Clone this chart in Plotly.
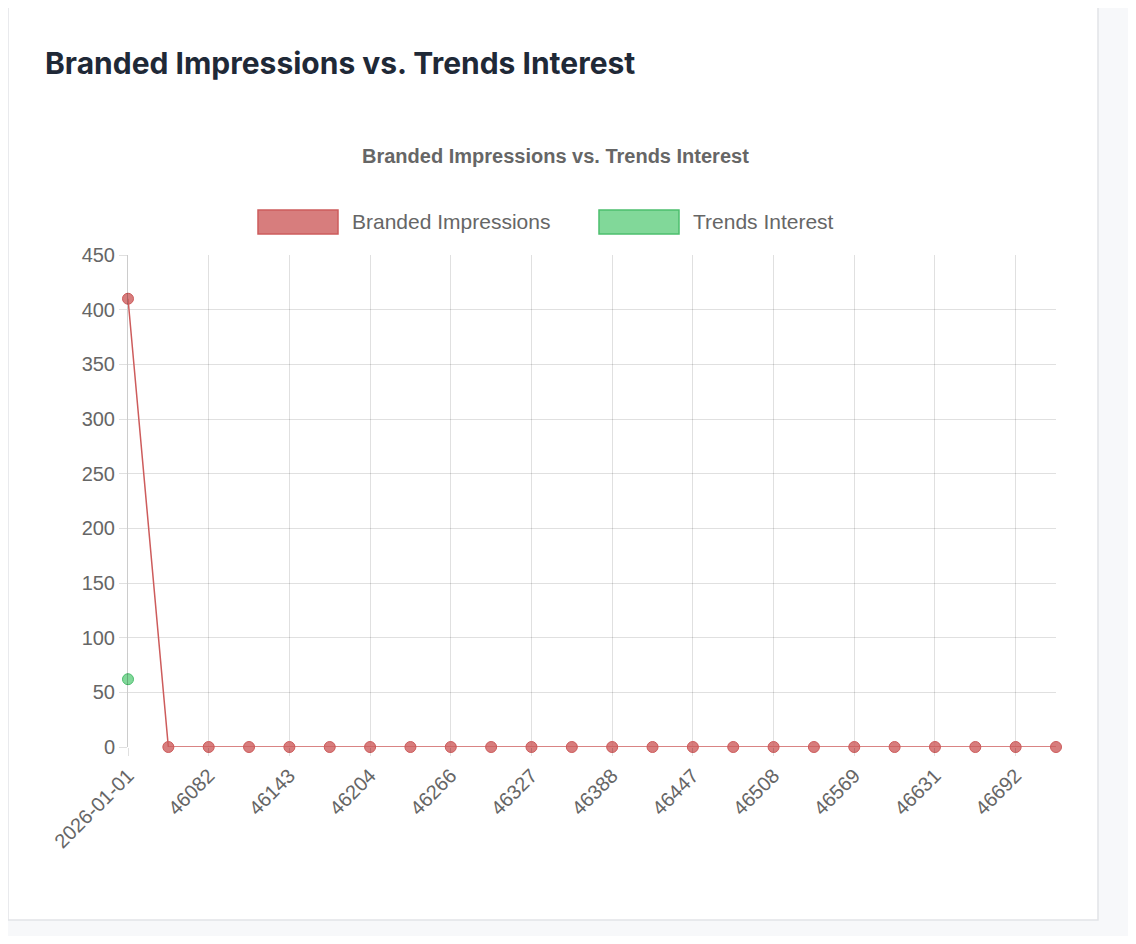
import plotly.graph_objects as go

# categories: first label is a date string, the rest are Excel serial dates
categories = ['2026-01-01', '46054', '46082', '46113', '46143', '46174', '46204', '46235',
              '46266', '46296', '46327', '46357', '46388', '46419', '46447', '46478',
              '46508', '46539', '46569', '46600', '46631', '46661', '46692', '46722']
branded_impressions = [410] + [0] * 23
trends_interest = [62] + [None] * 23

red_line = 'rgb(205,92,92)'
red_fill = 'rgba(205,92,92,0.8)'
green_line = 'rgb(76,190,110)'
green_fill = 'rgba(76,200,110,0.7)'

# pixel -> paper helpers (plot area 128..1056 x, 255..747 y)
def px(x):
    return (x - 128) / 928

def py(y):
    return (747 - y) / 492

fig = go.Figure()
fig.add_trace(go.Scatter(
    x=categories, y=branded_impressions, name='Branded Impressions', mode='lines+markers',
    line=dict(color=red_line, width=1.5),
    marker=dict(size=11, color=red_fill, line=dict(color=red_line, width=1)),
    cliponaxis=False
))
fig.add_trace(go.Scatter(
    x=categories, y=trends_interest, name='Trends Interest', mode='lines+markers',
    line=dict(color=green_line, width=1.5),
    marker=dict(size=11, color=green_fill, line=dict(color=green_line, width=1)),
    cliponaxis=False
))

shapes = [
    dict(type='rect', xref='paper', yref='paper', layer='below',
         x0=px(8), x1=px(1098), y0=py(920), y1=py(2),
         fillcolor='white', line=dict(color='#e2e4e8', width=1.5)),
    dict(type='rect', xref='paper', yref='paper', x0=px(258), x1=px(338), y0=py(234), y1=py(210),
         fillcolor=red_fill, line=dict(color=red_line, width=1.5)),
    dict(type='rect', xref='paper', yref='paper', x0=px(599), x1=px(679), y0=py(234), y1=py(210),
         fillcolor=green_fill, line=dict(color=green_line, width=1.5)),
]

annotations = [
    dict(text='<b>Branded Impressions vs. Trends Interest</b>', xref='paper', yref='paper',
         x=px(43), y=py(63), xanchor='left', yanchor='middle', showarrow=False,
         font=dict(size=30, color='#1f2937', family='Inter, Liberation Sans, sans-serif')),
    dict(text='<b>Branded Impressions vs. Trends Interest</b>', xref='paper', yref='paper',
         x=px(555), y=py(156), xanchor='center', yanchor='middle', showarrow=False,
         font=dict(size=20, color='#666')),
    dict(text='Branded Impressions', xref='paper', yref='paper', x=px(350), y=py(222),
         xanchor='left', yanchor='middle', showarrow=False, font=dict(size=21, color='#666')),
    dict(text='Trends Interest', xref='paper', yref='paper', x=px(691), y=py(222),
         xanchor='left', yanchor='middle', showarrow=False, font=dict(size=21, color='#666')),
]

fig.update_layout(
    width=1120, height=928,
    margin=dict(l=120, r=72, t=247, b=189),
    paper_bgcolor='#f7f8fa', plot_bgcolor='rgba(0,0,0,0)',
    font=dict(family='Liberation Sans, Arial, sans-serif', color='#666'),
    showlegend=False,
    shapes=shapes, annotations=annotations,
    xaxis=dict(type='category', range=[0, 23], tickvals=categories[::2], tickangle=-45,
               showgrid=True, gridcolor='rgba(0,0,0,0.12)', zeroline=False,
               ticks='outside', ticklen=8, tickcolor='rgba(0,0,0,0.12)',
               tickfont=dict(size=20, color='#666'), showline=False),
    yaxis=dict(range=[0, 450], dtick=50, showgrid=True, gridcolor='rgba(0,0,0,0.12)',
               zeroline=False, ticks='outside', ticklen=8, tickcolor='rgba(0,0,0,0.12)',
               tickfont=dict(size=20, color='#666'), showline=True,
               linecolor='rgba(0,0,0,0.2)'),
)

fig.write_html('out.html')
